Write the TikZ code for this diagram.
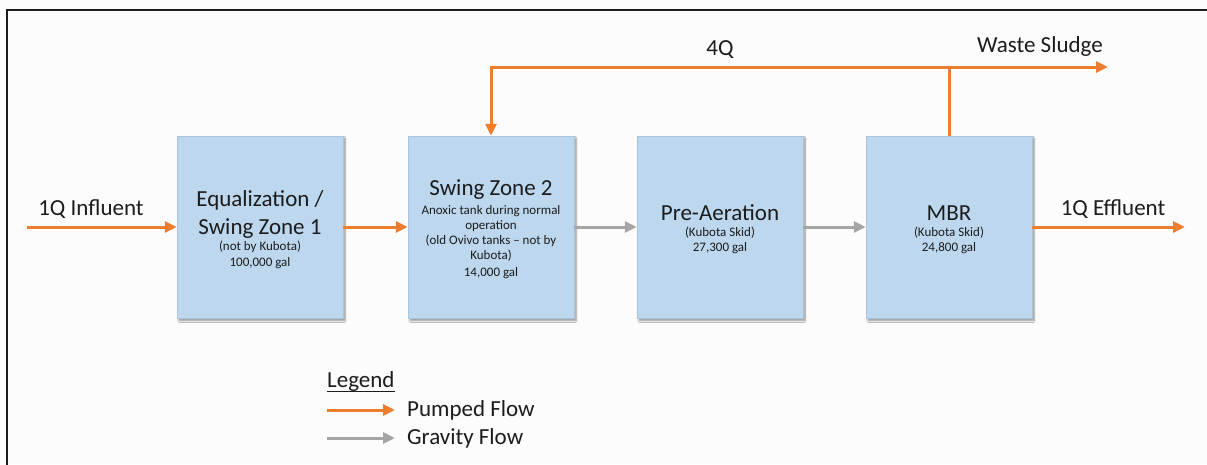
\documentclass[tikz,border=0pt]{standalone}
\usepackage{fontspec}
\setmainfont{Carlito}
\usetikzlibrary{arrows.meta,shadows.blur}
\definecolor{tankblue}{HTML}{BDD7EE}
\definecolor{tankedge}{HTML}{A9C3DC}
\definecolor{pumporange}{HTML}{ED7D31}
\definecolor{gravgray}{HTML}{A5A5A5}
\definecolor{ink}{HTML}{1C1C1C}
\newcommand{\bigtxt}{\fontsize{23}{27}\selectfont}
\newcommand{\smalltxt}{\fontsize{13}{15}\selectfont}
\newcommand{\legtxt}{\fontsize{23}{27}\selectfont}
\tikzset{
  flowtip/.tip={Triangle[length=12pt,width=11pt]},
  tank/.style={rectangle, fill=tankblue, draw=tankedge, line width=0.5pt,
    minimum width=166pt, minimum height=182pt, inner sep=0pt,
    blur shadow={shadow xshift=2pt, shadow yshift=-2.5pt, shadow blur steps=6, shadow opacity=45}},
  pumped/.style={draw=pumporange, line width=3pt, -flowtip},
  gravity/.style={draw=gravgray, line width=3pt, -flowtip},
  big/.style={font=\bigtxt, text=ink, anchor=base, inner sep=0pt},
  small/.style={font=\smalltxt, text=ink, anchor=base, inner sep=0pt},
  leg/.style={font=\legtxt, text=ink, anchor=base west, inner sep=0pt},
}
\begin{document}
\begin{tikzpicture}[x=1pt, y=-1pt]
  \useasboundingbox (0,0) rectangle (1207,464);
  \fill[white!99!black] (0,0) rectangle (1207,464);
  \begin{scope}
    \clip (0,0) rectangle (1207,464);
    % sheet frame (right and bottom edges run off the page)
    \draw[ink, line width=2.4pt] (7,480) -- (7,10) -- (1230,10);
  \end{scope}

  % process tanks
  \node[tank] (b1) at (260,227) {};
  \node[tank] (b2) at (491,227) {};
  \node[tank] (b3) at (720,227) {};
  \node[tank] (b4) at (949,227) {};

  % tank texts
  \node[big]   (t1a) at (260,206) {Equalization /};
  \node[big]   (t1b) at (260,234) {Swing Zone 1};
  \node[small] (t1c) at (260,250) {(not by Kubota)};
  \node[small] (t1d) at (260,266) {100,000 gal};

  \node[big]   (t2a) at (491,195) {Swing Zone 2};
  \node[small] (t2b) at (491,214) {Anoxic tank during normal};
  \node[small] (t2c) at (491,229) {operation};
  \node[small] (t2d) at (491,244) {(old Ovivo tanks -- not by};
  \node[small] (t2e) at (491,259) {Kubota)};
  \node[small] (t2f) at (491,276) {14,000 gal};

  \node[big]   (t3a) at (720,220) {Pre-Aeration};
  \node[small] (t3b) at (720,236) {(Kubota Skid)};
  \node[small] (t3c) at (720,251) {27,300 gal};

  \node[big]   (t4a) at (949,220) {MBR};
  \node[small] (t4b) at (949,236) {(Kubota Skid)};
  \node[small] (t4c) at (949,251) {24,800 gal};

  % free ends of the flow lines
  \coordinate (inf) at (27,227);
  \coordinate (eff) at (1185,227);
  \coordinate (rl) at (491,67);
  \coordinate (ws) at (1108,67);

  % main flow train
  \draw[pumped] (inf) -- (b1.west);
  \draw[pumped] (b1.east) -- (b2.west);
  \draw[gravity] (b2.east) -- (b3.west);
  \draw[gravity] (b3.east) -- (b4.west);
  \draw[pumped] (b4.east) -- (eff);

  % return activated sludge and wasting
  \draw[pumped, -] (b4.north) -- (b4.north |- ws);
  \draw[pumped, flowtip-flowtip] (ws) -- (rl) -- (b2.north);

  % flow labels
  \node[big] (lin) at (91,215) {1Q Influent};
  \node[big] (lout) at (1113,215) {1Q Effluent};
  \node[big] (l4q) at (720,55) {4Q};
  \node[big] (lws) at (1040,52) {Waste Sludge};

  % legend
  \node[leg] (lg) at (327,387) {Legend};
  \draw[ink, line width=1.6pt] ([yshift=-4.5pt]lg.base west) -- ([yshift=-4.5pt]lg.base east);
  \coordinate (lpa) at (327,410);
  \coordinate (lpb) at (395,410);
  \coordinate (lga) at (327,438);
  \coordinate (lgb) at (395,438);
  \draw[pumped] (lpa) -- (lpb);
  \draw[gravity] (lga) -- (lgb);
  \node[leg] (lpt) at (407,416) {Pumped Flow};
  \node[leg] (lgt) at (407,444) {Gravity Flow};
\end{tikzpicture}
\end{document}
